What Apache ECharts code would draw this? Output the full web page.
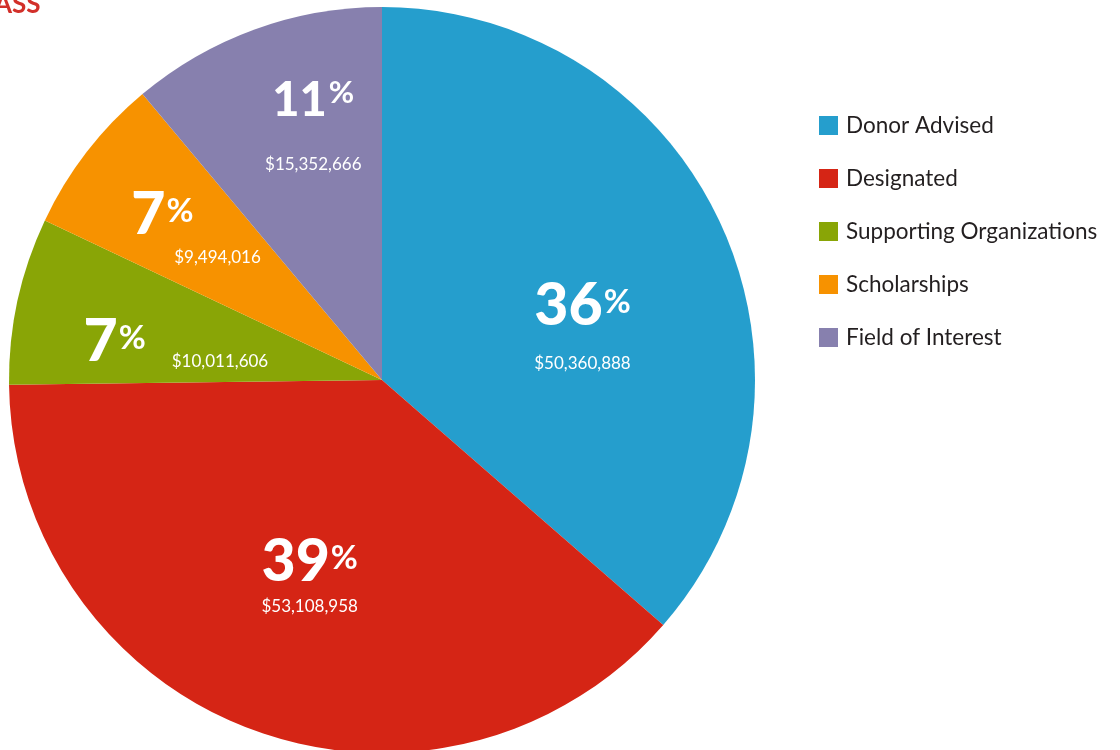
<!DOCTYPE html>
<html>
<head>
<meta charset="utf-8">
<script src="https://cdn.jsdelivr.net/npm/echarts@6/dist/echarts.min.js"></script>
<style>
  html, body { margin: 0; padding: 0; background: #ffffff; }
  #chart { width: 1120px; height: 750px; }
</style>
</head>
<body>
<div id="chart"></div>
<script>
// ---- data ----
const categories = ['Donor Advised', 'Designated', 'Supporting Organizations', 'Scholarships', 'Field of Interest'];
const amounts = [50360888, 53108958, 10011606, 9494016, 15352666];
const percentLabels = ['36', '39', '7', '7', '11'];
const amountLabels = ['$50,360,888', '$53,108,958', '$10,011,606', '$9,494,016', '$15,352,666'];

// ---- styling ----
const colors = ['#259ECD', '#D52515', '#89A506', '#F79200', '#8780AE'];
const labelShift = [
  { dx: 28, dy: 34 },
  { dx: -7, dy: 21 },
  { dx: -21, dy: 2 },
  { dx: -36, dy: -35 },
  { dx: -4, dy: -60 }
];
const FONT = 'Lato';

const chart = echarts.init(document.getElementById('chart'), null, { renderer: 'canvas' });

function labelText(i) {
  if (i === 2) return '{p|' + percentLabels[i] + '}{s|%}{dside|' + amountLabels[i] + '}';
  if (i === 3) return '{pl|' + percentLabels[i] + '}{sl|%}\n{dind|' + amountLabels[i] + '}';
  if (i === 4) return '{p4|' + percentLabels[i] + '}{s4|%}\n{d4|' + amountLabels[i] + '}';
  return '{p|' + percentLabels[i] + '}{s|%}\n{d' + i + '|' + amountLabels[i] + '}';
}

const dStyle = (lh) => ({ fontFamily: FONT, fontSize: 17, color: '#ffffff', lineHeight: lh });
const pStyle = { fontFamily: FONT, fontSize: 59, fontWeight: 900, color: '#ffffff', lineHeight: 56 };
const sStyle = { fontFamily: FONT, fontSize: 33, fontWeight: 'bold', color: '#ffffff', lineHeight: 33, verticalAlign: 'top', padding: [8, 0, 0, 1] };

const option = {
  backgroundColor: '#ffffff',
  animation: false,
  color: colors,
  graphic: [{
    type: 'text',
    left: -6,
    top: -8,
    style: { text: 'ASS', fill: '#D2302A', font: 'bold 26px ' + FONT }
  }],
  legend: {
    orient: 'vertical',
    left: 819,
    top: 114,
    padding: 0,
    itemWidth: 19,
    itemHeight: 19,
    itemGap: 30,
    icon: 'rect',
    data: categories,
    textStyle: { fontFamily: FONT, fontSize: 22.5, color: '#231F20', padding: [0, 0, 0, 3] }
  },
  series: [{
    type: 'pie',
    center: [382, 380],
    radius: 373,
    startAngle: 90,
    clockwise: true,
    avoidLabelOverlap: false,
    label: {
      show: true,
      position: 'inside',
      formatter: (p) => labelText(p.dataIndex),
      rich: {
        p: pStyle,
        s: sStyle,
        pl: Object.assign({}, pStyle, { align: 'left' }),
        sl: Object.assign({}, sStyle, { align: 'left' }),
        p4: Object.assign({}, pStyle, { fontSize: 47, lineHeight: 46 }),
        s4: Object.assign({}, sStyle, { fontSize: 31, lineHeight: 31, padding: [0, 0, 0, 2] }),
        d0: dStyle(60),
        d1: dStyle(34),
        d4: dStyle(83),
        dind: Object.assign(dStyle(28), { align: 'left', padding: [0, 0, 0, 43] }),
        dside: Object.assign(dStyle(20), { verticalAlign: 'bottom', padding: [0, 0, 0, 26] })
      }
    },
    labelLine: { show: false },
    labelLayout: (params) => labelShift[params.dataIndex],
    emphasis: { disabled: true },
    data: categories.map((name, i) => ({ name: name, value: amounts[i] }))
  }]
};

chart.setOption(option);
</script>
</body>
</html>
